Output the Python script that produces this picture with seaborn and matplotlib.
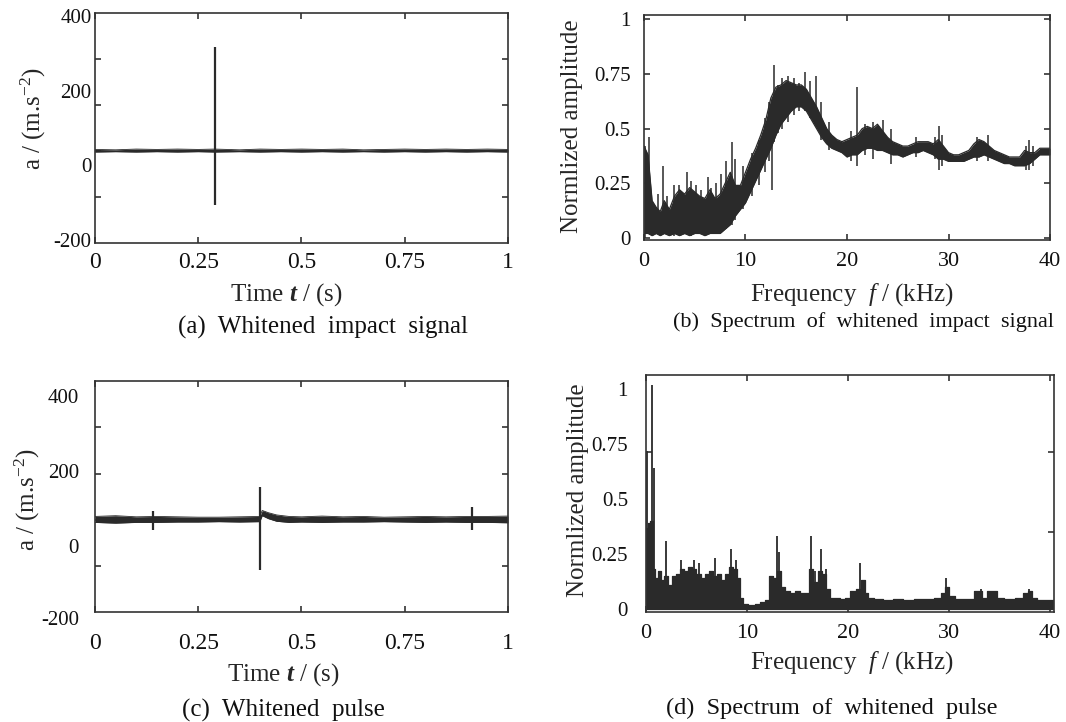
import numpy as np
import pandas as pd
import matplotlib
matplotlib.use('Agg')
import matplotlib.pyplot as plt
import matplotlib.transforms as mtransforms
import seaborn as sns
from matplotlib.ticker import FixedLocator

# ---------------- data ----------------
# (a) whitened impact signal: thin noise band + one impact spike
a_t = [0.0, 0.05, 0.1, 0.15, 0.2, 0.25, 0.29, 0.35, 0.4, 0.45, 0.5, 0.55,
       0.6, 0.65, 0.7, 0.75, 0.8, 0.85, 0.9, 0.95, 1.0]
a_upper = [43, 42, 44, 43, 44, 43, 44, 42, 44, 43, 44, 43, 44, 42, 43, 44,
           43, 44, 43, 44, 43]
a_lower = [36, 37, 36, 37, 36, 37, 36, 37, 36, 37, 36, 37, 36, 37, 36, 37,
           36, 37, 36, 37, 36]
a_spike_t = [0.29]
a_spike_top = [317]
a_spike_bottom = [-106]

# (c) whitened pulse: noise band, main spike with small decay bump, two small spikes
c_t = [0.0, 0.05, 0.1, 0.15, 0.2, 0.25, 0.3, 0.35, 0.399, 0.405, 0.42, 0.44,
       0.47, 0.5, 0.55, 0.6, 0.65, 0.7, 0.75, 0.8, 0.85, 0.9, 0.95, 1.0]
c_upper = [78, 80, 77, 78, 77, 76, 76, 77, 78, 94, 88, 82, 78, 77, 79, 77,
           78, 76, 77, 78, 77, 78, 78, 79]
c_lower = [62, 60, 62, 62, 63, 63, 64, 63, 64, 80, 72, 65, 62, 63, 62, 63,
           63, 64, 63, 62, 63, 62, 62, 61]
c_spike_t = [0.141, 0.3995, 0.913]
c_spike_top = [92, 158, 104]
c_spike_bottom = [42, -66, 43]

# (b) spectrum of whitened impact signal (upper / lower envelope, kHz)
b_f = [0.0, 0.4, 0.8, 1.2, 1.6, 2.0, 2.5, 3.0, 3.5, 4.0, 4.5, 5.0, 5.5, 6.0,
       6.5, 7.0, 7.5, 8.0, 8.5, 9.0, 9.5, 10.0, 10.5, 11.0, 11.5, 12.0, 12.5,
       13.0, 13.5, 14.0, 14.5, 15.0, 15.5, 16.0, 16.5, 17.0, 17.5, 18.0, 18.5,
       19.0, 19.5, 20.0, 20.5, 21.0, 21.5, 22.0, 22.5, 23.0, 23.5, 24.0, 24.5,
       25.0, 25.5, 26.0, 26.5, 27.0, 27.5, 28.0, 28.5, 29.0, 29.5, 30.0, 30.5,
       31.0, 31.5, 32.0, 32.5, 33.0, 33.5, 34.0, 34.5, 35.0, 35.5, 36.0, 36.5,
       37.0, 37.5, 38.0, 38.5, 39.0, 39.5, 40.0]
b_upper = [0.42, 0.38, 0.17, 0.14, 0.12, 0.17, 0.13, 0.19, 0.22, 0.20, 0.23,
           0.21, 0.19, 0.18, 0.22, 0.18, 0.20, 0.25, 0.30, 0.24, 0.24, 0.30,
           0.36, 0.41, 0.47, 0.54, 0.64, 0.69, 0.70, 0.72, 0.71, 0.70, 0.70,
           0.68, 0.64, 0.60, 0.55, 0.50, 0.47, 0.45, 0.44, 0.45, 0.46, 0.47,
           0.50, 0.51, 0.50, 0.52, 0.49, 0.46, 0.44, 0.43, 0.42, 0.42, 0.43,
           0.44, 0.44, 0.44, 0.43, 0.45, 0.42, 0.39, 0.38, 0.38, 0.39, 0.40,
           0.43, 0.45, 0.44, 0.42, 0.40, 0.39, 0.38, 0.37, 0.37, 0.37, 0.40,
           0.39, 0.39, 0.41, 0.41, 0.41]
b_lower = [0.02, 0.02, 0.01, 0.02, 0.01, 0.02, 0.01, 0.02, 0.01, 0.02, 0.01,
           0.02, 0.02, 0.01, 0.02, 0.02, 0.02, 0.04, 0.06, 0.10, 0.13, 0.16,
           0.21, 0.26, 0.31, 0.36, 0.41, 0.47, 0.52, 0.55, 0.58, 0.60, 0.60,
           0.58, 0.54, 0.50, 0.46, 0.43, 0.41, 0.40, 0.39, 0.37, 0.38, 0.38,
           0.40, 0.41, 0.41, 0.40, 0.40, 0.39, 0.38, 0.38, 0.37, 0.38, 0.39,
           0.39, 0.40, 0.39, 0.38, 0.36, 0.36, 0.35, 0.35, 0.35, 0.35, 0.36,
           0.37, 0.37, 0.38, 0.37, 0.36, 0.35, 0.34, 0.34, 0.33, 0.33, 0.33,
           0.34, 0.36, 0.38, 0.38, 0.38]
b_spike_f = [0.1, 0.52, 1.35, 1.84, 2.23, 2.99, 3.48, 4.24, 4.63, 5.12, 5.62,
             6.27, 6.6, 7.09, 7.59, 8.08, 8.64, 8.97, 9.8, 10.6, 11.3, 11.9,
             12.3, 12.6, 12.8, 13.2, 13.6, 14.2, 14.8, 15.3, 15.9, 16.4, 16.9,
             17.4, 18.2, 20.4, 21.0, 21.8, 22.6, 23.5, 24.3, 26.8, 28.7, 29.1,
             29.4, 32.8, 33.9, 37.6, 37.9, 38.3]
b_spike_top = [0.42, 0.46, 0.20, 0.33, 0.19, 0.24, 0.24, 0.30, 0.26, 0.24,
               0.22, 0.28, 0.23, 0.25, 0.29, 0.35, 0.44, 0.36, 0.33, 0.39,
               0.45, 0.55, 0.62, 0.60, 0.79, 0.70, 0.73, 0.74, 0.73, 0.71,
               0.76, 0.72, 0.74, 0.62, 0.53, 0.49, 0.69, 0.52, 0.53, 0.54,
               0.50, 0.46, 0.46, 0.51, 0.47, 0.46, 0.47, 0.42, 0.45, 0.42]
b_spike_bottom = [0.0, 0.02, 0.02, 0.02, 0.02, 0.01, 0.02, 0.02, 0.01, 0.02,
                  0.02, 0.02, 0.02, 0.02, 0.02, 0.04, 0.06, 0.08, 0.13, 0.19,
                  0.24, 0.30, 0.35, 0.22, 0.44, 0.48, 0.50, 0.53, 0.56, 0.58,
                  0.58, 0.55, 0.52, 0.45, 0.40, 0.35, 0.33, 0.38, 0.36, 0.40,
                  0.34, 0.37, 0.36, 0.31, 0.33, 0.35, 0.35, 0.31, 0.31, 0.33]

# (d) spectrum of whitened pulse (upper envelope, kHz)
d_f = [0.0, 0.3, 0.5, 0.8, 1.0, 1.3, 1.6, 2.0, 2.4, 2.8, 3.2, 3.6, 4.0, 4.4,
       4.8, 5.2, 5.6, 6.0, 6.4, 6.8, 7.2, 7.6, 8.0, 8.4, 8.8, 9.2, 9.5, 9.8,
       10.5, 11.0, 11.5, 12.0, 12.4, 12.8, 13.2, 13.6, 14.0, 14.5, 15.0, 15.5,
       16.0, 16.3, 16.8, 17.2, 17.6, 18.0, 18.5, 19.0, 19.5, 20.0, 20.5, 21.0,
       21.5, 21.8, 22.2, 23.0, 24.0, 25.0, 26.0, 27.0, 28.0, 29.0, 29.4, 29.8,
       30.2, 31.0, 32.0, 33.0, 33.5, 34.0, 34.5, 35.0, 36.0, 37.0, 37.6, 38.0,
       38.5, 39.0, 40.0, 40.4]
d_upper = [0.37, 0.39, 0.40, 0.18, 0.14, 0.17, 0.13, 0.15, 0.11, 0.15, 0.16,
           0.18, 0.17, 0.19, 0.18, 0.16, 0.14, 0.16, 0.17, 0.15, 0.16, 0.13,
           0.16, 0.19, 0.18, 0.14, 0.05, 0.02, 0.015, 0.02, 0.03, 0.04, 0.15,
           0.14, 0.17, 0.10, 0.08, 0.07, 0.08, 0.07, 0.07, 0.18, 0.12, 0.17,
           0.16, 0.09, 0.05, 0.05, 0.045, 0.05, 0.08, 0.09, 0.13, 0.07, 0.05,
           0.045, 0.04, 0.045, 0.04, 0.045, 0.045, 0.05, 0.07, 0.10, 0.06,
           0.045, 0.045, 0.08, 0.05, 0.08, 0.08, 0.05, 0.045, 0.05, 0.07, 0.08,
           0.05, 0.04, 0.04, 0.04]
d_spike_f = [0.1, 0.6, 0.75, 2.0, 3.5, 4.8, 5.2, 6.85, 8.4, 8.9, 13.0, 13.2,
             16.3, 16.7, 17.3, 17.8, 21.2, 29.7, 33.2, 37.9]
d_spike_top = [0.72, 1.02, 0.64, 0.31, 0.22, 0.22, 0.21, 0.23, 0.27, 0.22,
               0.33, 0.26, 0.33, 0.17, 0.27, 0.18, 0.21, 0.14, 0.09, 0.09]

# tick labels as printed on the figure
time_ticks = [0, 0.25, 0.5, 0.75, 1]
time_ticklabels = ['0', '0.25', '0.5', '0.75', '1']
acc_ticks = [400, 200, 0, -200]
acc_ticklabels = ['400', '200', '0', '-200']
freq_ticks = [0, 10, 20, 30, 40]
freq_ticklabels = ['0', '10', '20', '30', '40']
amp_ticks = [0, 0.25, 0.5, 0.75, 1]
amp_ticklabels = ['0', '0.25', '0.5', '0.75', '1']

captions = ['(a)  Whitened  impact  signal',
            '(b)  Spectrum  of  whitened  impact  signal',
            '(c)  Whitened  pulse',
            '(d)  Spectrum  of  whitened  pulse']
caption_sizes = [18, 16, 18, 17.5]

# ---------------- style ----------------
sns.set_style('ticks')
plt.rcParams['font.family'] = ['Liberation Serif', 'DejaVu Serif']
plt.rcParams['mathtext.fontset'] = 'custom'
plt.rcParams['mathtext.rm'] = 'Liberation Serif'
plt.rcParams['mathtext.it'] = 'Liberation Serif:italic'
plt.rcParams['mathtext.bf'] = 'Liberation Serif:italic:bold'
plt.rcParams['mathtext.default'] = 'regular'
plt.rcParams['axes.edgecolor'] = '#333333'
plt.rcParams['axes.linewidth'] = 1.2
plt.rcParams['text.color'] = '#111111'
plt.rcParams['xtick.color'] = '#333333'
plt.rcParams['ytick.color'] = '#333333'
plt.rcParams['xtick.labelcolor'] = '#111111'
plt.rcParams['ytick.labelcolor'] = '#111111'

INK = '#2a2a2a'

fig = plt.figure(figsize=(10.66, 7.22), dpi=100)
ax_a = fig.add_axes([0.0891, 0.6634, 0.3874, 0.3186])
ax_b = fig.add_axes([0.6041, 0.6676, 0.3809, 0.3116])
ax_c = fig.add_axes([0.0891, 0.1524, 0.3874, 0.3199])
ax_d = fig.add_axes([0.6060, 0.1524, 0.3827, 0.3283])


def draw_band(ax, x, upper, lower, step=None, lw=0.9):
    df = pd.DataFrame({'x': x, 'upper': upper, 'lower': lower})
    ds = 'steps-mid' if step else 'default'
    sns.lineplot(data=df, x='x', y='upper', ax=ax, color=INK, lw=lw,
                 drawstyle=ds, sort=False)
    sns.lineplot(data=df, x='x', y='lower', ax=ax, color=INK, lw=lw,
                 drawstyle=ds, sort=False)
    ax.fill_between(df['x'], df['lower'], df['upper'], color=INK, lw=0,
                    step=step)


def style_axes(ax, xlim, xticks, xticklabels, xfs, xpad,
               ylim, yticks, yticklabels, ypad, minor_y=None):
    ax.set_xlim(xlim)
    ax.set_ylim(ylim)
    ax.set_xticks(xticks)
    ax.set_xticklabels(xticklabels)
    ax.set_yticks(yticks)
    ax.set_yticklabels(yticklabels)
    ax.tick_params(axis='x', which='major', direction='in', length=4,
                   width=1.2, top=True, bottom=True, pad=xpad, labelsize=xfs)
    if minor_y is not None:
        ax.yaxis.set_minor_locator(FixedLocator(minor_y))
        ax.tick_params(axis='y', which='major', length=0, pad=ypad,
                       labelsize=15)
        ax.tick_params(axis='y', which='minor', direction='in', length=4,
                       width=1.2, left=True, right=True)
    else:
        ax.tick_params(axis='y', which='major', direction='in', length=4,
                       width=1.2, left=True, right=True, pad=ypad,
                       labelsize=15)
    for s in ax.spines.values():
        s.set_visible(True)


def set_labels(ax, xlabel, xpos, ylabel, ypos):
    ax.set_xlabel(xlabel, fontsize=18)
    ax.xaxis.set_label_coords(*xpos)
    ax.xaxis.label.set_va('center')
    ax.set_ylabel(ylabel, fontsize=18)
    ax.yaxis.set_label_coords(*ypos)
    ax.yaxis.label.set_va('center')


# ---- (a) ----
draw_band(ax_a, a_t, a_upper, a_lower, lw=0.6)
ax_a.vlines(a_spike_t, a_spike_bottom, a_spike_top, color=INK, lw=1.6)
style_axes(ax_a, (0, 1), time_ticks, time_ticklabels, 17, 6.5,
           (-208, 409), acc_ticks, acc_ticklabels, 2.5,
           minor_y=[-84.6, 38.8, 162.2, 285.6])
set_labels(ax_a, r'Time $\mathbf{t}$ / (s)', (0.464, -0.225),
           r'a / (m.s$^{-2}$)', (-0.149, 0.543))

# ---- (b) ----
draw_band(ax_b, b_f, b_upper, b_lower)
ax_b.vlines(b_spike_f, b_spike_bottom, b_spike_top, color=INK, lw=1.1)
style_axes(ax_b, (0, 40), freq_ticks, freq_ticklabels, 16, 9,
           (-0.01, 1.02), amp_ticks, amp_ticklabels, 9.7)
set_labels(ax_b, r'Frequency  $\mathit{f}$ / (kHz)', (0.512, -0.244),
           'Normlized amplitude', (-0.178, 0.504))

# ---- (c) ----
draw_band(ax_c, c_t, c_upper, c_lower, lw=0.6)
ax_c.vlines(c_spike_t, c_spike_bottom, c_spike_top, color=INK, lw=1.6)
style_axes(ax_c, (0, 1), time_ticks, time_ticklabels, 17, 15.5,
           (-178, 441), acc_ticks[:3], acc_ticklabels[:3], 11.5,
           minor_y=[-54, 69.6, 193, 317])
# the lowest label sits just below the frame in the original
trans = mtransforms.blended_transform_factory(ax_c.transAxes, ax_c.transData)
ax_c.text(-0.039, acc_ticks[3], acc_ticklabels[3], transform=trans,
          ha='right', va='center', fontsize=15, color='#111111')
set_labels(ax_c, r'Time $\mathbf{t}$ / (s)', (0.455, -0.27),
           r'a / (m.s$^{-2}$)', (-0.163, 0.489))

# ---- (d) ----
d_lower = [0.0] * len(d_f)
draw_band(ax_d, d_f, d_upper, d_lower, step='mid')
ax_d.vlines(d_spike_f, 0, d_spike_top, color=INK, lw=1.3)
style_axes(ax_d, (0, 40.4), freq_ticks, freq_ticklabels, 16, 9,
           (-0.015, 1.066), amp_ticks, amp_ticklabels, 13,
           minor_y=[0.349, 0.713])
set_labels(ax_d, r'Frequency  $\mathit{f}$ / (kHz)', (0.505, -0.215),
           'Normlized amplitude', (-0.167, 0.515))

# captions under each panel
cap_pos = [(0.303, 0.547), (0.8105, 0.554), (0.2655, 0.0166), (0.7805, 0.0194)]
for txt, (x, y), fs in zip(captions, cap_pos, caption_sizes):
    fig.text(x, y, txt, ha='center', va='center', fontsize=fs)

fig.savefig('out.png', dpi=100)
